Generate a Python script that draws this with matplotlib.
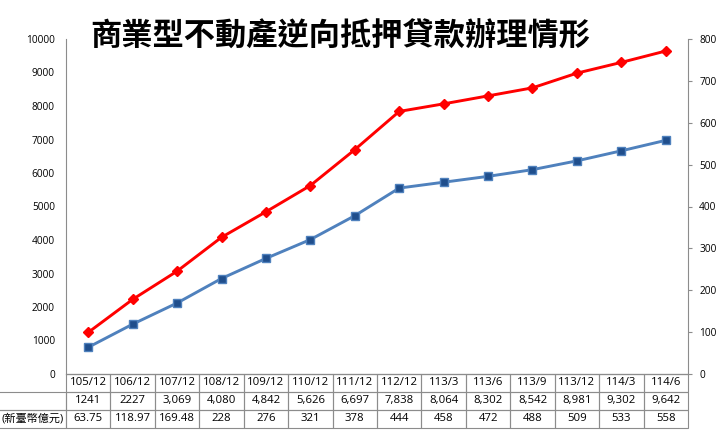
import matplotlib
matplotlib.use('Agg')
import matplotlib.pyplot as plt
from matplotlib.table import Table

plt.rcParams['font.family'] = ['Open Sans', 'Noto Sans CJK TC', 'DejaVu Sans']

# data
periods = ['105/12', '106/12', '107/12', '108/12', '109/12', '110/12', '111/12',
           '112/12', '113/3', '113/6', '113/9', '113/12', '114/3', '114/6']
cases = [1241, 2227, 3069, 4080, 4842, 5626, 6697,
         7838, 8064, 8302, 8542, 8981, 9302, 9642]
amount = [63.75, 118.97, 169.48, 228, 276, 321, 378,
          444, 458, 472, 488, 509, 533, 558]
row_labels = ['', '(新臺幣億元)']
title = '商業型不動產逆向抵押貸款辦理情形'

GRID = '#8c8c8c'

fig = plt.figure(figsize=(7.19, 4.32), dpi=100)
ax = fig.add_axes([66 / 719, 1 - 374 / 432, 622 / 719, 335 / 432])
ax2 = ax.twinx()

x = list(range(len(periods)))
ax.plot(x, cases, color='#ff0000', linewidth=2.1, marker='D', markersize=5.5,
        markerfacecolor='#ff0000', markeredgecolor='#ff0000', zorder=3)
ax2.plot(x, amount, color='#4f81bd', linewidth=2.1, marker='s', markersize=5.5,
         markerfacecolor='#1f4e8c', markeredgecolor='#4f81bd', markeredgewidth=1.0, zorder=3)

ax.set_xlim(-0.5, len(periods) - 0.5)
ax.set_ylim(0, 10000)
ax.set_yticks(range(0, 10001, 1000))
ax2.set_ylim(0, 800)
ax2.set_yticks(range(0, 801, 100))
ax.set_xticks([])

for a in (ax, ax2):
    for s in a.spines.values():
        s.set_color(GRID)
        s.set_linewidth(0.8)
    a.spines['top'].set_visible(False)
ax.spines['right'].set_visible(False)
ax2.spines['left'].set_visible(False)
ax.tick_params(axis='y', length=0, pad=8, labelsize=7.3)
ax2.tick_params(axis='y', length=3, width=0.8, color=GRID, pad=5, labelsize=7.3)

# data table under the plot
n = len(periods)
cw = 1.0 / n
rh = 0.161 / 3
lw = 75 / 622
tbl = Table(ax, bbox=[0, -0.161, 1, 0.161])
rows = [periods,
        [str(v) if i < 2 else f'{v:,}' for i, v in enumerate(cases)],
        [f'{v:g}' for v in amount]]
label_cells = []
for r, vals in enumerate(rows):
    for c, txt in enumerate(vals):
        cell = tbl.add_cell(r, c, cw, rh, text=txt, loc='center',
                            edgecolor=GRID, facecolor='none')
        cell.set_linewidth(0.8)
    if r > 0:
        cell = tbl.add_cell(r, -1, lw, rh, text=row_labels[r - 1], loc='right',
                            edgecolor=GRID, facecolor='none')
        cell.PAD = 0.03
        cell.set_linewidth(0.8)
        label_cells.append(cell)
tbl.auto_set_font_size(False)
tbl.set_fontsize(8.2)
for cell in label_cells:
    cell.get_text().set_fontsize(8.0)
ax.add_table(tbl)

fig.text(90 / 719, 1 - 37 / 432, title, fontsize=22.5, fontweight='bold',
         family='Noto Sans CJK TC', ha='left', va='center')

fig.savefig('out.png', dpi=100)
